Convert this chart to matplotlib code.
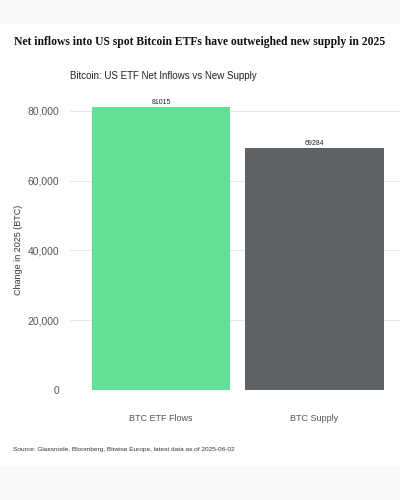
import matplotlib
matplotlib.use("Agg")
from matplotlib import pyplot
from matplotlib.patches import Rectangle

categories = ["BTC ETF Flows", "BTC Supply"]
values = [81015, 69284]
bar_colors = ["#62e096", "#5e6264"]
yticks = [0, 20000, 40000, 60000, 80000]

pyplot.rcParams["font.family"] = ["Liberation Sans", "DejaVu Sans"]

fig = pyplot.figure(figsize=(4, 5), dpi=100)
fig.patch.set_facecolor("white")

# light grey bands at top and bottom of the card
fig.patches.append(Rectangle((0, 0.952), 1, 0.048, transform=fig.transFigure,
                             facecolor="#fafafa", edgecolor="none", zorder=-1))
fig.patches.append(Rectangle((0, 0), 1, 0.068, transform=fig.transFigure,
                             facecolor="#fafafa", edgecolor="none", zorder=-1))

ax = fig.add_axes([0.175, 0.22, 0.825, 0.58])
x = list(range(len(categories)))
bars = ax.bar(x, values, width=0.9, color=bar_colors, zorder=2)
for b, v in zip(bars, values):
    ax.text(b.get_x() + b.get_width() / 2, v + 300, str(v),
            ha="center", va="bottom", fontsize=5, color="#222222")

ax.set_xlim(-0.593, 1.557)
ax.set_ylim(0, 83154)
ax.set_yticks(yticks)
ax.set_yticklabels([f"{t:,}" for t in yticks], fontsize=7.5, color="#555555")
ax.set_xticks(x)
ax.set_xticklabels(categories, fontsize=6.5, color="#555555")
ax.tick_params(axis="both", length=0)
ax.tick_params(axis="y", pad=8)
ax.tick_params(axis="x", pad=17)
ax.grid(axis="y", color="#e8e8e8", linewidth=0.8, zorder=0)
for s in ax.spines.values():
    s.set_visible(False)
ax.set_facecolor("white")

fig.text(0.035, 0.5, "Change in 2025 (BTC)", rotation=90, ha="left",
         va="center", fontsize=6.5, color="#333333")

fig.text(0.5, 0.916, "Net inflows into US spot Bitcoin ETFs have outweighed new supply in 2025",
         ha="center", va="center", fontsize=8.35, fontweight="bold",
         family=["Liberation Serif", "DejaVu Serif"], color="#111111")
fig.text(0.175, 0.848, "Bitcoin: US ETF Net Inflows vs New Supply",
         ha="left", va="center", fontsize=7, color="#222222")
fig.text(0.033, 0.1, "Source: Glassnode, Bloomberg, Bitwise Europe, latest data as of 2025-06-02",
         ha="left", va="center", fontsize=4.65, color="#333333")

fig.savefig("out.png", dpi=100, facecolor=fig.get_facecolor())
